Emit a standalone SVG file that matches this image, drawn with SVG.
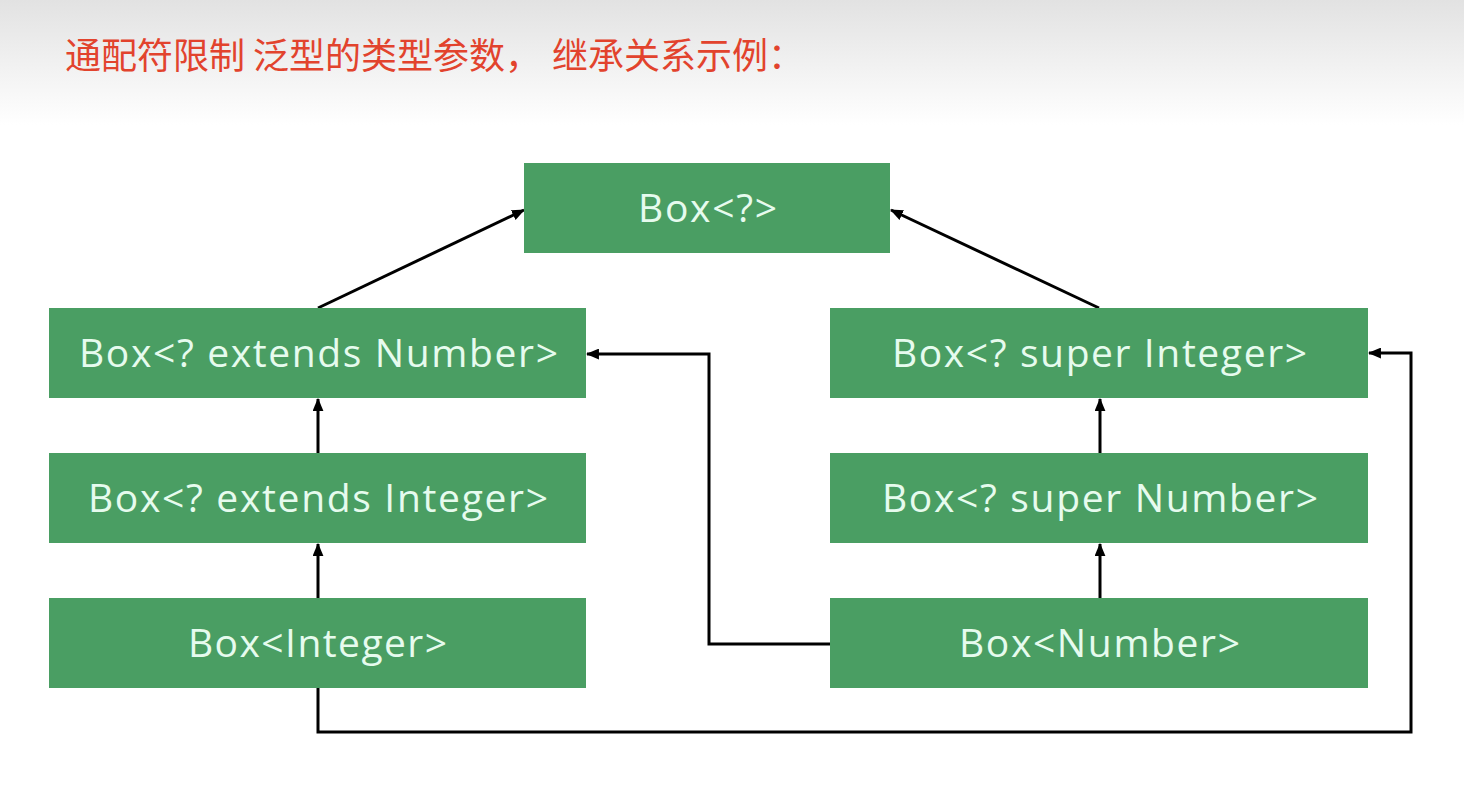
<svg xmlns="http://www.w3.org/2000/svg" width="1464" height="790" viewBox="0 0 1464 790">
  <defs>
    <linearGradient id="bg" x1="0" y1="0" x2="0" y2="1">
      <stop offset="0" stop-color="#e2e2e2"/>
      <stop offset="1" stop-color="#ffffff"/>
    </linearGradient>
    <marker id="arrow" viewBox="0 0 12 10" refX="11" refY="5" markerWidth="13" markerHeight="11" markerUnits="userSpaceOnUse" orient="auto">
      <path d="M0,0 L12,5 L0,10 Z" fill="#000"/>
    </marker>
    <style>
      .box { fill: #4a9e63; }
      .lbl { font-family: "Open Sans", "Noto Sans", "Liberation Sans", sans-serif; font-size: 39px; fill: #e6fbee; text-anchor: middle; }
      .conn { fill: none; stroke: #000; stroke-width: 3; marker-end: url(#arrow); }
      .title { font-family: "Noto Sans CJK SC", "Noto Sans", sans-serif; font-size: 36px; fill: #e2432d; }
    </style>
  </defs>
  <rect x="0" y="0" width="1464" height="790" fill="#ffffff"/>
  <rect x="0" y="0" width="1464" height="125" fill="url(#bg)"/>
  <text class="title" x="65" y="69">通配符限制 泛型的类型参数，<tspan x="552">继承关系示例：</tspan></text>

  <g id="connectors">
    <line class="conn" x1="318" y1="308" x2="524" y2="210"/>
    <line class="conn" x1="1099" y1="308" x2="891" y2="210"/>
    <line class="conn" x1="318" y1="453" x2="318" y2="399"/>
    <line class="conn" x1="318" y1="598" x2="318" y2="544"/>
    <line class="conn" x1="1100" y1="453" x2="1100" y2="399"/>
    <line class="conn" x1="1100" y1="598" x2="1100" y2="544"/>
    <polyline class="conn" points="830,644 709,644 709,354 587,354"/>
    <polyline class="conn" points="318,688 318,732 1411,732 1411,353 1369,353"/>
  </g>

  <g id="box-any">
    <rect class="box" x="524" y="163" width="366" height="90"/>
    <text class="lbl" x="707.5" y="222" textLength="139">Box&lt;?&gt;</text>
  </g>
  <g id="box-extends-number">
    <rect class="box" x="49" y="308" width="537" height="90"/>
    <text class="lbl" x="318.5" y="367" textLength="479">Box&lt;? extends Number&gt;</text>
  </g>
  <g id="box-extends-integer">
    <rect class="box" x="49" y="453" width="537" height="90"/>
    <text class="lbl" x="318" y="512" textLength="460">Box&lt;? extends Integer&gt;</text>
  </g>
  <g id="box-integer">
    <rect class="box" x="49" y="598" width="537" height="90"/>
    <text class="lbl" x="317.5" y="657" textLength="259">Box&lt;Integer&gt;</text>
  </g>
  <g id="box-super-integer">
    <rect class="box" x="830" y="308" width="538" height="90"/>
    <text class="lbl" x="1099.5" y="367" textLength="415">Box&lt;? super Integer&gt;</text>
  </g>
  <g id="box-super-number">
    <rect class="box" x="830" y="453" width="538" height="90"/>
    <text class="lbl" x="1100" y="512" textLength="436">Box&lt;? super Number&gt;</text>
  </g>
  <g id="box-number">
    <rect class="box" x="830" y="598" width="538" height="90"/>
    <text class="lbl" x="1099.5" y="657" textLength="281">Box&lt;Number&gt;</text>
  </g>
</svg>
